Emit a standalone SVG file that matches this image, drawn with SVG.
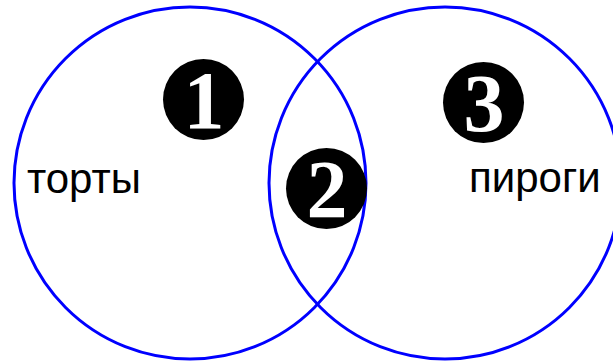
<svg xmlns="http://www.w3.org/2000/svg" width="613" height="361" viewBox="0 0 613 361">
<style>
.set{fill:none;stroke:#0000ff;stroke-width:3}
.lbl{font-family:"Liberation Sans",Arial,sans-serif;font-size:42px;fill:#000}
.badge{fill:#000}
.num{font-family:"Liberation Serif","DejaVu Serif",serif;font-weight:bold;font-size:82px;fill:#fff;text-anchor:middle}
</style>
<rect width="613" height="361" fill="#fff"/>
<g id="set-tortes">
<circle class="set" cx="190" cy="183" r="176"/>
<text class="lbl" x="27" y="193">торты</text>
</g>
<g id="set-pies">
<circle class="set" cx="445" cy="183" r="176"/>
<text class="lbl" x="469" y="192">пироги</text>
</g>
<g id="region-1">
<circle class="badge" cx="203.5" cy="99.5" r="40.5"/>
<text class="num" x="204" y="128">1</text>
</g>
<g id="region-2">
<circle class="badge" cx="326.5" cy="188.5" r="40.5"/>
<text class="num" x="327" y="217">2</text>
</g>
<g id="region-3">
<circle class="badge" cx="483.5" cy="102.5" r="40.5"/>
<text class="num" x="484" y="131">3</text>
</g>
</svg>
